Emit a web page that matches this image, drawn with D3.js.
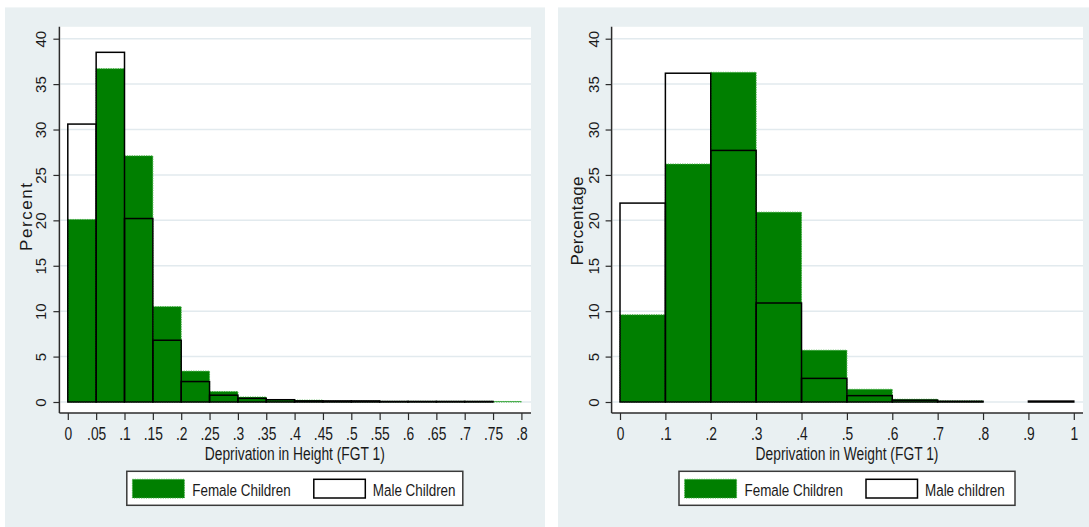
<!DOCTYPE html>
<html>
<head>
<meta charset="utf-8">
<script src="https://cdn.jsdelivr.net/npm/d3@7"></script>
<style>
  html, body { margin: 0; padding: 0; background: #ffffff; }
  svg { display: block; }
  text { font-family: "Liberation Sans", Arial, Helvetica, sans-serif; fill: #1a1a1a; }
</style>
</head>
<body>
<svg id="chart" width="1089" height="527"></svg>
<script>
// ---- Height-for-age deprivation (FGT 1), percent of children per bin ----
const heightBinStarts = [0, 0.05, 0.1, 0.15, 0.2, 0.25, 0.3, 0.35, 0.4, 0.45, 0.5, 0.55, 0.6, 0.65, 0.7, 0.75];
const heightBinWidth = 0.05;
const heightFemale = [20.1, 36.7, 27.1, 10.5, 3.4, 1.15, 0.55, 0.25, 0.2, 0.1, 0.1, 0.08, 0.08, 0.08, 0.08, 0.06];
const heightMale   = [30.6, 38.5, 20.2, 6.8, 2.25, 0.75, 0.4, 0.25, 0.12, 0.12, 0.12, 0.06, 0.06, 0.06, 0.06, 0];
const heightTicks  = [0, 0.05, 0.1, 0.15, 0.2, 0.25, 0.3, 0.35, 0.4, 0.45, 0.5, 0.55, 0.6, 0.65, 0.7, 0.75, 0.8];

// ---- Weight-for-age deprivation (FGT 1), percent of children per bin ----
const weightBinStarts = [0, 0.1, 0.2, 0.3, 0.4, 0.5, 0.6, 0.7, 0.8, 0.9];
const weightBinWidth = 0.1;
const weightFemale = [9.6, 26.2, 36.3, 20.9, 5.7, 1.4, 0.3, 0.12, 0, 0];
const weightMale   = [21.9, 36.2, 27.7, 10.9, 2.6, 0.7, 0.2, 0.08, 0, 0.1];
const weightTicks  = [0, 0.1, 0.2, 0.3, 0.4, 0.5, 0.6, 0.7, 0.8, 0.9, 1];

const percentTicks = [0, 5, 10, 15, 20, 25, 30, 35, 40];

const svg = d3.select("#chart");

const COLORS = {
  panel: "#e9f0f2",
  grid: "#e2eaee",
  axis: "#2b2b2b",
  green: "#007f00",
  greenEdge: "#3fae3f",
  male: "#000000"
};

// Stata-style tick labels: 0, .05, .1 ... 1
const fmtTick = d => d === 0 ? "0" : (d >= 1 ? String(d) : String(+d.toFixed(2)).replace(/^0/, ""));

const SX = 0.79; // horizontal condensing of the text

function drawPanel(p) {
  const g = svg.append("g");

  // panel background
  g.append("rect")
    .attr("x", p.bgLeft).attr("y", 7.4)
    .attr("width", p.bgRight - p.bgLeft).attr("height", 527 - 7.4)
    .attr("fill", COLORS.panel);

  const plotTop = 26.8, plotBottom = 413;

  // plot region
  g.append("rect")
    .attr("x", p.plotLeft).attr("y", plotTop)
    .attr("width", p.plotRight - p.plotLeft).attr("height", plotBottom - plotTop)
    .attr("fill", "#ffffff");

  const x = d3.scaleLinear().domain([0, p.ticks[p.ticks.length - 1]]).range(p.xRange);
  const y = d3.scaleLinear().domain([0, 40]).range([402, 38.7]);

  // horizontal gridlines
  g.append("g").selectAll("line").data(percentTicks).join("line")
    .attr("x1", p.plotLeft + 1).attr("x2", p.plotRight)
    .attr("y1", d => y(d)).attr("y2", d => y(d))
    .attr("stroke", COLORS.grid).attr("stroke-width", 1.5);

  // female bars (filled)
  const fem = p.starts.map((s, i) => ({ s, v: p.female[i] })).filter(d => d.v > 0);
  g.append("g").selectAll("rect").data(fem).join("rect")
    .attr("x", d => x(d.s))
    .attr("y", d => y(d.v))
    .attr("width", d => x(d.s + p.binWidth) - x(d.s))
    .attr("height", d => y(0) - y(d.v))
    .attr("fill", COLORS.green)
    .attr("stroke", COLORS.greenEdge)
    .attr("stroke-width", 1)
    .attr("stroke-dasharray", "1.2,1.2");

  // male bars (outline only, drawn on top)
  const mal = p.starts.map((s, i) => ({ s, v: p.male[i] })).filter(d => d.v > 0);
  g.append("g").selectAll("rect").data(mal).join("rect")
    .attr("x", d => x(d.s))
    .attr("y", d => y(d.v))
    .attr("width", d => x(d.s + p.binWidth) - x(d.s))
    .attr("height", d => y(0) - y(d.v))
    .attr("fill", "none")
    .attr("stroke", COLORS.male)
    .attr("stroke-width", 1.5);

  // axis lines
  g.append("line")
    .attr("x1", p.plotLeft).attr("x2", p.plotLeft)
    .attr("y1", plotTop).attr("y2", plotBottom)
    .attr("stroke", COLORS.axis).attr("stroke-width", 1.5);
  g.append("line")
    .attr("x1", p.plotLeft).attr("x2", p.plotRight)
    .attr("y1", plotBottom).attr("y2", plotBottom)
    .attr("stroke", COLORS.axis).attr("stroke-width", 1.5);

  // y axis
  const ya = g.append("g")
    .attr("transform", `translate(${p.plotLeft},0)`)
    .call(d3.axisLeft(y).tickValues(percentTicks).tickSize(6).tickSizeOuter(0));
  ya.select(".domain").remove();
  ya.selectAll(".tick line").attr("stroke", COLORS.axis).attr("stroke-width", 1.2);
  ya.selectAll(".tick text")
    .attr("x", null).attr("dy", null)
    .attr("text-anchor", "middle")
    .attr("font-size", 15)
    .attr("fill", "#1a1a1a")
    .attr("transform", "translate(-13,0) rotate(-90) scale(1,0.93)");

  // x axis
  const xa = g.append("g")
    .attr("transform", `translate(0,${plotBottom})`)
    .call(d3.axisBottom(x).tickValues(p.ticks).tickSize(7).tickSizeOuter(0).tickFormat(fmtTick));
  xa.select(".domain").remove();
  xa.selectAll(".tick line").attr("stroke", COLORS.axis).attr("stroke-width", 1.2);
  xa.selectAll(".tick text")
    .attr("y", 27).attr("dy", null)
    .attr("font-size", 17.5)
    .attr("fill", "#1a1a1a")
    .attr("transform", `scale(${SX},1)`);

  // axis titles
  g.append("text")
    .attr("transform", `translate(${p.cx},460) scale(${SX},1)`)
    .attr("text-anchor", "middle")
    .attr("font-size", 17.5)
    .text(p.xTitle);

  g.append("text")
    .attr("transform", `translate(${p.yTitleX},${p.yTitleY}) rotate(-90)`)
    .attr("text-anchor", "middle")
    .attr("font-size", 17)
    .attr("textLength", p.yTitleLen)
    .attr("lengthAdjust", "spacing")
    .text(p.yTitle);

  // legend
  const lx = p.cx - 168;
  const lg = g.append("g");
  lg.append("rect")
    .attr("x", lx).attr("y", 471.3).attr("width", 336).attr("height", 34)
    .attr("fill", "#ffffff").attr("stroke", "#3a3a3a").attr("stroke-width", 1.5);
  lg.append("rect")
    .attr("x", lx + 5.6).attr("y", 479.3).attr("width", 52).attr("height", 18.7)
    .attr("fill", COLORS.green).attr("stroke", COLORS.greenEdge)
    .attr("stroke-width", 1).attr("stroke-dasharray", "1.2,1.2");
  lg.append("text")
    .attr("transform", `translate(${lx + 65.5},496) scale(${SX},1)`)
    .attr("font-size", 17)
    .text(p.legend[0]);
  lg.append("rect")
    .attr("x", lx + 187).attr("y", 479.3).attr("width", 51.5).attr("height", 18.7)
    .attr("fill", "#ffffff").attr("stroke", COLORS.male).attr("stroke-width", 1.5);
  lg.append("text")
    .attr("transform", `translate(${lx + 246},496) scale(${SX},1)`)
    .attr("font-size", 17)
    .text(p.legend[1]);
}

drawPanel({
  bgLeft: 5, bgRight: 545,
  plotLeft: 59.4, plotRight: 531,
  xRange: [67.8, 521.4],
  cx: 294.8,
  starts: heightBinStarts, binWidth: heightBinWidth,
  female: heightFemale, male: heightMale,
  ticks: heightTicks,
  xTitle: "Deprivation in Height (FGT 1)",
  yTitle: "Percent", yTitleX: 31.5, yTitleY: 217, yTitleLen: 68,
  legend: ["Female Children", "Male Children"]
});

drawPanel({
  bgLeft: 558, bgRight: 1089,
  plotLeft: 611.6, plotRight: 1083,
  xRange: [620, 1073.8],
  cx: 847,
  starts: weightBinStarts, binWidth: weightBinWidth,
  female: weightFemale, male: weightMale,
  ticks: weightTicks,
  xTitle: "Deprivation in Weight (FGT 1)",
  yTitle: "Percentage", yTitleX: 583, yTitleY: 221, yTitleLen: 89,
  legend: ["Female Children", "Male children"]
});
</script>
</body>
</html>
